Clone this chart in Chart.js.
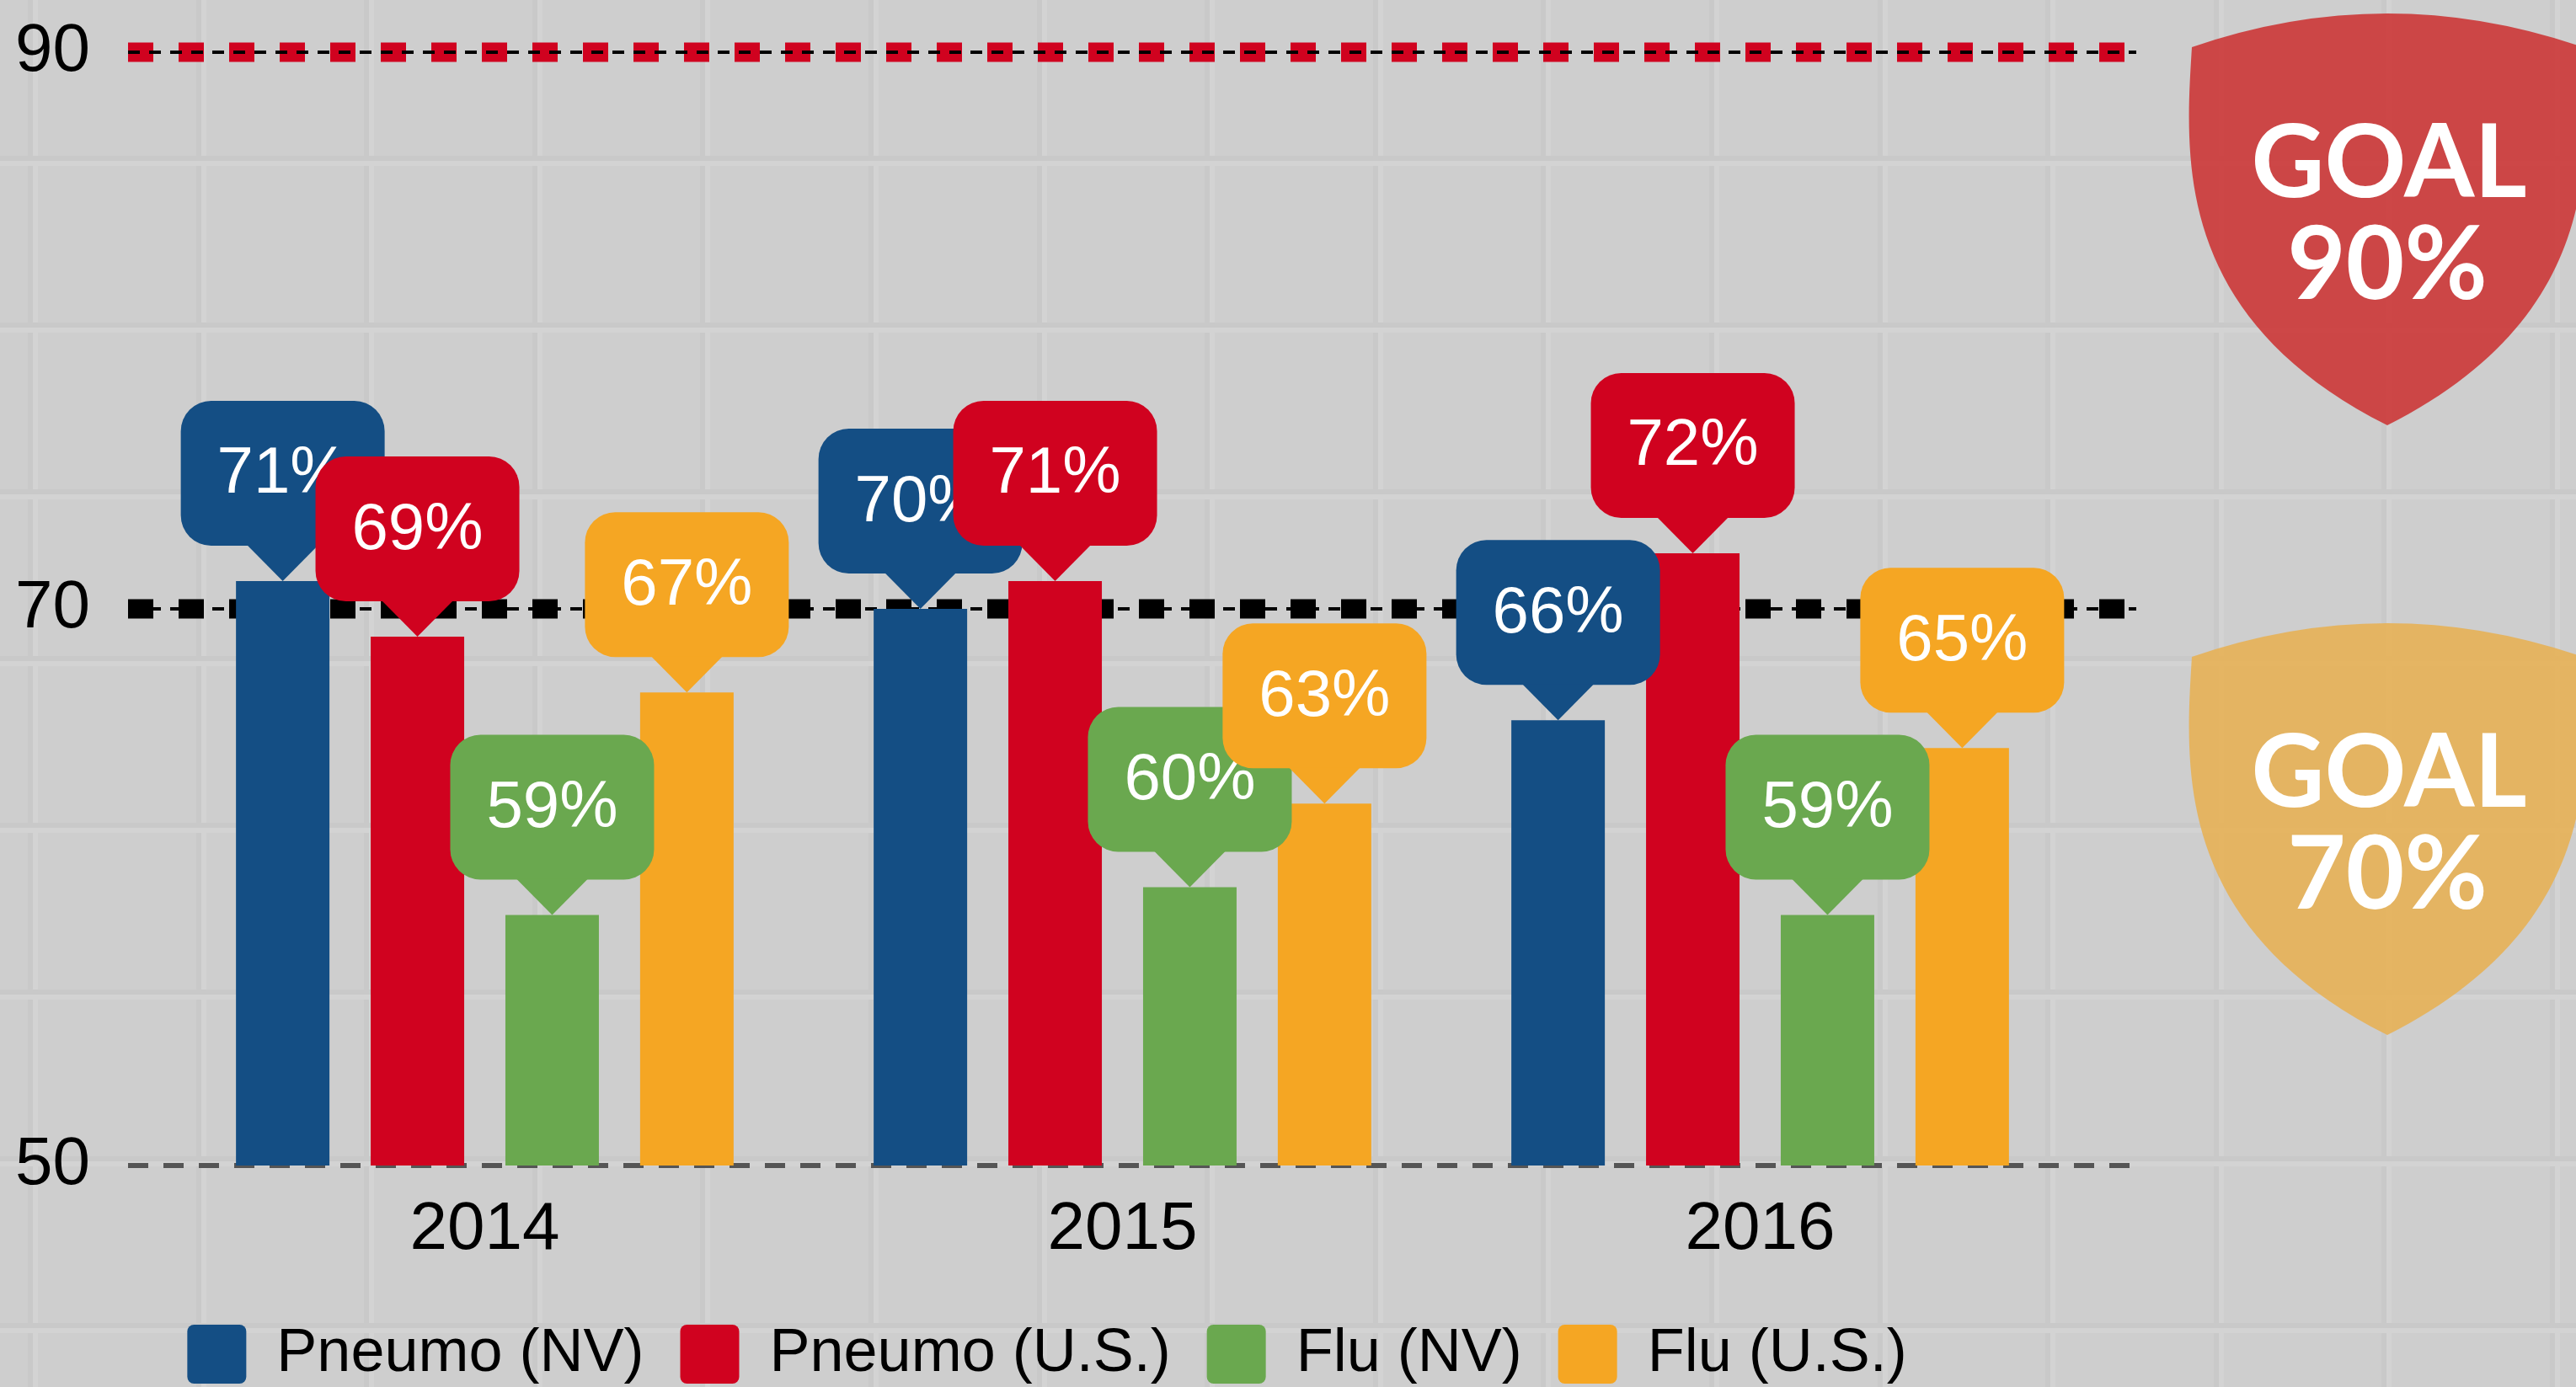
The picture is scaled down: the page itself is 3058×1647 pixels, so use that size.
<!DOCTYPE html>
<html>
<head>
<meta charset="utf-8">
<title>Vaccination rates vs goals</title>
<script src="https://cdn.jsdelivr.net/npm/chart.js@4.4.1/dist/chart.umd.min.js"></script>
<style>
  html, body { margin: 0; padding: 0; background: #cecece; }
  canvas { display: block; }
</style>
</head>
<body>
<canvas id="chart" width="3058" height="1647"></canvas>
<script>
// values (percent)
const years = ['2014', '2015', '2016'];
const pneumoNV = [71, 70, 66];
const pneumoUS = [69, 71, 72];
const fluNV = [59, 60, 59];
const fluUS = [67, 63, 65];
const yTicks = [50, 70, 90];
const goalValues = [90, 70];

const FONT = "'Liberation Sans', Arial, sans-serif";
const colors = {
  blue: '#144e84',
  red: '#d0021f',
  green: '#6aa84f',
  orange: '#f5a623'
};

// light grey tiled backdrop
const backdrop = {
  id: 'backdrop',
  beforeDraw(chart) {
    const { ctx, width, height } = chart;
    ctx.save();
    ctx.fillStyle = '#cecece';
    ctx.fillRect(0, 0, width, height);
    for (let x = 33; x < width; x += 199.6) {
      ctx.fillStyle = '#c9c9c9';
      ctx.fillRect(Math.round(x), 0, 6, height);
      ctx.fillStyle = '#d3d3d3';
      ctx.fillRect(Math.round(x) + 6, 0, 6, height);
    }
    for (let y = -13; y < height; y += 198) {
      ctx.fillStyle = '#c9c9c9';
      ctx.fillRect(0, Math.round(y), width, 6);
      ctx.fillStyle = '#d3d3d3';
      ctx.fillRect(0, Math.round(y) + 6, width, 6);
    }
    ctx.restore();
  }
};

// goal lines (90 red, 70 black) and the dashed 50 baseline
const goalLines = {
  id: 'goalLines',
  beforeDatasetsDraw(chart) {
    const { ctx, chartArea, scales } = chart;
    const x0 = chartArea.left - 45;
    const x1 = chartArea.right + 68;
    ctx.save();

    // baseline at the axis minimum
    const yb = scales.y.getPixelForValue(yTicks[0]);
    ctx.strokeStyle = '#555555';
    ctx.lineWidth = 6;
    ctx.setLineDash([24, 18]);
    ctx.beginPath();
    ctx.moveTo(x0, yb);
    ctx.lineTo(x1, yb);
    ctx.stroke();

    goalValues.forEach((v, i) => {
      const y = scales.y.getPixelForValue(v);
      ctx.fillStyle = i === 0 ? colors.red : '#000000';
      for (let x = x0; x + 30 <= x1; x += 60) {
        ctx.fillRect(x, y - 11.5, 30, 23);
      }
      ctx.strokeStyle = '#000000';
      ctx.lineWidth = 4;
      ctx.setLineDash([14, 11]);
      ctx.beginPath();
      ctx.moveTo(x0, y);
      ctx.lineTo(x1, y);
      ctx.stroke();
    });
    ctx.restore();
  }
};

function roundRect(ctx, x, y, w, h, r) {
  ctx.moveTo(x + r, y);
  ctx.lineTo(x + w - r, y);
  ctx.arcTo(x + w, y, x + w, y + r, r);
  ctx.lineTo(x + w, y + h - r);
  ctx.arcTo(x + w, y + h, x + w - r, y + h, r);
  ctx.lineTo(x + r, y + h);
  ctx.arcTo(x, y + h, x, y + h - r, r);
  ctx.lineTo(x, y + r);
  ctx.arcTo(x, y, x + r, y, r);
}

// speech-bubble value labels sitting on top of each bar
const callouts = {
  id: 'callouts',
  afterDatasetsDraw(chart) {
    const { ctx } = chart;
    const boxW = 242, boxH = 172, tipH = 42, tipW = 85;
    ctx.save();
    chart.data.datasets.forEach((ds, di) => {
      const meta = chart.getDatasetMeta(di);
      meta.data.forEach((bar, i) => {
        const cx = bar.x;
        const bottom = bar.y - tipH;
        const top = bottom - boxH;
        ctx.fillStyle = ds.backgroundColor;
        ctx.beginPath();
        roundRect(ctx, cx - boxW / 2, top, boxW, boxH, 36);
        ctx.fill();
        ctx.beginPath();
        ctx.moveTo(cx - tipW / 2, bottom - 1);
        ctx.lineTo(cx + tipW / 2, bottom - 1);
        ctx.lineTo(cx, bar.y);
        ctx.closePath();
        ctx.fill();

        ctx.fillStyle = '#ffffff';
        ctx.font = '78px ' + FONT;
        ctx.textAlign = 'center';
        ctx.textBaseline = 'middle';
        ctx.fillText(ds.data[i] + '%', cx, top + boxH / 2 + 2);
      });
    });
    ctx.restore();
  }
};

function shieldPath(ctx, cx, top) {
  ctx.beginPath();
  ctx.moveTo(cx - 232, top + 40);
  ctx.quadraticCurveTo(cx, top - 40, cx + 232, top + 40);
  ctx.bezierCurveTo(cx + 240, top + 170, cx + 255, top + 360, cx, top + 489);
  ctx.bezierCurveTo(cx - 255, top + 360, cx - 240, top + 170, cx - 232, top + 40);
  ctx.closePath();
}

// the two goal badges on the right
const shields = {
  id: 'shields',
  afterDraw(chart) {
    const { ctx, chartArea, scales } = chart;
    const cx = chartArea.right + 366;
    const tops = [
      scales.y.getPixelForValue(goalValues[0]) - 46,
      scales.y.getPixelForValue(goalValues[1]) + 17
    ];
    const fills = ['rgba(204, 59, 59, 0.92)', 'rgba(230, 178, 89, 0.92)'];
    ctx.save();
    goalValues.forEach((v, i) => {
      shieldPath(ctx, cx, tops[i]);
      ctx.fillStyle = fills[i];
      ctx.fill();
      ctx.fillStyle = '#ffffff';
      ctx.font = 'bold 120px Lato, sans-serif';
      ctx.textAlign = 'center';
      ctx.textBaseline = 'alphabetic';
      ctx.fillText('GOAL', cx + 2, tops[i] + 218);
      ctx.fillText(v + '%', cx, tops[i] + 339);
    });
    ctx.restore();
  }
};

new Chart(document.getElementById('chart'), {
  type: 'bar',
  data: {
    labels: years,
    datasets: [
      { label: 'Pneumo (NV)', data: pneumoNV, backgroundColor: colors.blue },
      { label: 'Pneumo (U.S.)', data: pneumoUS, backgroundColor: colors.red },
      { label: 'Flu (NV)', data: fluNV, backgroundColor: colors.green },
      { label: 'Flu (U.S.)', data: fluUS, backgroundColor: colors.orange }
    ]
  },
  options: {
    responsive: false,
    animation: false,
    events: [],
    devicePixelRatio: 1,
    layout: {
      padding: { top: 62, left: 18, right: 590, bottom: -7 }
    },
    datasets: {
      bar: {
        categoryPercentage: 0.845,
        barPercentage: 0.694,
        borderWidth: 0
      }
    },
    scales: {
      x: {
        grid: { display: false, drawTicks: false },
        border: { display: false },
        ticks: {
          color: '#000000',
          padding: 29,
          font: { family: FONT, size: 80 }
        },
        afterFit(scale) {
          scale.height = 145;
          scale.paddingLeft = 0;
          scale.paddingRight = 0;
        }
      },
      y: {
        min: 50,
        max: 90,
        grid: { display: false, drawTicks: false },
        border: { display: false },
        afterBuildTicks(scale) {
          scale.ticks = yTicks.map(v => ({ value: v }));
        },
        ticks: {
          color: '#000000',
          padding: 90,
          font: { family: FONT, size: 80 }
        },
        afterFit(scale) {
          scale.width = 179;
          scale.paddingTop = 0;
          scale.paddingBottom = 0;
        }
      }
    },
    plugins: {
      legend: {
        position: 'bottom',
        labels: {
          color: '#000000',
          boxWidth: 70,
          boxHeight: 70,
          padding: 43,
          useBorderRadius: true,
          borderRadius: 8,
          font: { family: FONT, size: 72 }
        }
      },
      tooltip: { enabled: false }
    }
  },
  plugins: [backdrop, goalLines, callouts, shields]
});
</script>
</body>
</html>
